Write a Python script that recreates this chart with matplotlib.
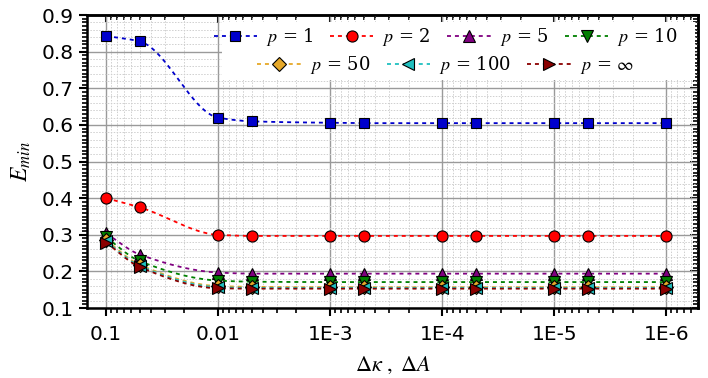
import numpy as np
import matplotlib
matplotlib.use("Agg")
import matplotlib.pyplot as plt
from matplotlib.patches import Rectangle
from matplotlib.ticker import FixedLocator, LogLocator, MultipleLocator, NullFormatter

plt.rcParams['mathtext.fontset'] = 'stix'

# step sizes (x) and minimum energy for each p
dk = [0.1, 0.05, 0.01, 0.005, 1e-3, 5e-4, 1e-4, 5e-5, 1e-5, 5e-6, 1e-6]
e_p1 = [0.843, 0.828, 0.620, 0.610, 0.606, 0.605, 0.605, 0.605, 0.605, 0.605, 0.605]
e_p2 = [0.400, 0.375, 0.300, 0.297, 0.297, 0.297, 0.297, 0.297, 0.297, 0.297, 0.297]
e_p5 = [0.304, 0.246, 0.197, 0.194, 0.194, 0.194, 0.194, 0.194, 0.194, 0.194, 0.194]
e_p10 = [0.293, 0.228, 0.175, 0.172, 0.171, 0.171, 0.171, 0.171, 0.171, 0.171, 0.171]
e_p50 = [0.285, 0.218, 0.160, 0.158, 0.157, 0.157, 0.157, 0.157, 0.157, 0.157, 0.157]
e_p100 = [0.282, 0.215, 0.157, 0.155, 0.155, 0.155, 0.155, 0.155, 0.155, 0.155, 0.155]
e_pinf = [0.279, 0.212, 0.154, 0.153, 0.153, 0.153, 0.153, 0.153, 0.153, 0.153, 0.153]

labels = ['$p$ = 1', '$p$ = 2', '$p$ = 5', '$p$ = 10', '$p$ = 50', '$p$ = 100', '$p$ = $\\infty$']
series = [e_p1, e_p2, e_p5, e_p10, e_p50, e_p100, e_pinf]
colors = ['#0000cc', '#ff0000', '#800080', '#007f00', '#e6a828', '#20c0c0', '#8b0000']
markers = ['s', 'o', '^', 'v', 'D', '<', '>']
msizes = [7, 8, 8.5, 8.5, 7, 8.5, 8.5]
xticks = [0.1, 0.01, 1e-3, 1e-4, 1e-5, 1e-6]
xticklabels = ['0.1', '0.01', '1E-3', '1E-4', '1E-5', '1E-6']


def pchip(x, y, xn):
    # monotone cubic, only used to draw the smooth connecting line
    x = np.asarray(x, float); y = np.asarray(y, float)
    h = np.diff(x); d = np.diff(y) / h
    m = np.zeros_like(y)
    for i in range(1, len(x) - 1):
        if d[i - 1] * d[i] > 0:
            w1 = 2 * h[i] + h[i - 1]; w2 = h[i] + 2 * h[i - 1]
            m[i] = (w1 + w2) / (w1 / d[i - 1] + w2 / d[i])
    m[0] = d[0]; m[-1] = d[-1]
    idx = np.clip(np.searchsorted(x, xn) - 1, 0, len(h) - 1)
    t = (xn - x[idx]) / h[idx]
    h00 = 2 * t**3 - 3 * t**2 + 1; h10 = t**3 - 2 * t**2 + t
    h01 = -2 * t**3 + 3 * t**2; h11 = t**3 - t**2
    return h00 * y[idx] + h10 * h[idx] * m[idx] + h01 * y[idx + 1] + h11 * h[idx] * m[idx + 1]


fig = plt.figure(figsize=(7.08, 3.78), dpi=100)
ax = fig.add_axes([0.123, 0.185, 0.863, 0.775])
ax.set_xscale('log')

dash = (0, (2.2, 2.2))
lx = -np.log10(dk)
fine = np.linspace(lx[0], lx[-1], 400)
handles = []
for ys, lab, c, mk, ms in zip(series, labels, colors, markers, msizes):
    ax.plot(10 ** (-fine), pchip(lx, ys, fine), color=c, lw=1.3, ls=dash, zorder=3)
    ax.plot(dk, ys, ls='none', marker=mk, ms=ms, mfc=c, mec='black', mew=0.8, zorder=4)
    h, = ax.plot([], [], color=c, lw=1.3, ls=dash, marker=mk, ms=ms, mfc=c,
                 mec='black', mew=0.8, label=lab)
    handles.append(h)

ax.set_xlim(0.148, 5.2e-7)
ax.set_ylim(0.1, 0.9)
ax.xaxis.set_major_locator(FixedLocator(xticks))
ax.set_xticklabels(xticklabels)
ax.xaxis.set_minor_locator(LogLocator(base=10, subs=np.arange(2, 10) * 1.0, numticks=20))
ax.xaxis.set_minor_formatter(NullFormatter())
ax.yaxis.set_minor_locator(MultipleLocator(0.01))
ax.set_yticks(np.arange(0.1, 0.91, 0.1))
ax.set_yticklabels([f'{v:.1f}' for v in np.arange(0.1, 0.91, 0.1)])

# grid: solid major, dotted minor
ax.grid(which='major', color='#9a9a9a', lw=1.0, ls='-', zorder=1)
ax.grid(which='minor', axis='x', color='#cfcfcf', lw=0.7, ls=(0, (1.5, 1.5)), zorder=1)
for yv in np.arange(0.12, 0.9, 0.02):
    if abs(yv * 10 - round(yv * 10)) > 1e-6:
        ax.axhline(yv, color='#cfcfcf', lw=0.7, ls=(0, (1.5, 1.5)), zorder=1)
ax.set_axisbelow(True)

ax.tick_params(which='both', labelsize=14.5, direction='out')
ax.tick_params(which='major', length=6, width=1.5)
ax.tick_params(which='minor', length=3.5, width=1.2)
ax.tick_params(axis='x', pad=6)
for sp in ax.spines.values():
    sp.set_linewidth(1.8)

# mirrored inward ticks on top and right
top = ax.secondary_xaxis('top')
top.xaxis.set_major_locator(FixedLocator(xticks))
top.xaxis.set_minor_locator(LogLocator(base=10, subs=np.arange(2, 10) * 1.0, numticks=20))
top.tick_params(which='both', direction='in', labeltop=False)
top.tick_params(which='major', length=6, width=1.5)
top.tick_params(which='minor', length=3.5, width=1.2)
right = ax.secondary_yaxis('right')
right.yaxis.set_major_locator(MultipleLocator(0.1))
right.yaxis.set_minor_locator(MultipleLocator(0.01))
right.tick_params(which='both', direction='in', labelright=False)
right.tick_params(which='major', length=6, width=1.5)
right.tick_params(which='minor', length=3.5, width=1.2)
for s in (top, right):
    for sp in s.spines.values():
        sp.set_linewidth(1.8)

ax.set_ylabel('$E_{min}$', fontsize=17, labelpad=6)
ax.set_xlabel('$\\Delta\\kappa\\ ,\\ \\Delta A$', fontsize=16, labelpad=8)

# legend: white box, 4 entries on first row, 3 centred on second
ax.add_patch(Rectangle((0.221, 0.778), 0.774, 0.198, transform=ax.transAxes,
                       facecolor='white', edgecolor='none', zorder=5))
lkw = dict(frameon=False, handlelength=2.4, handletextpad=0.5, columnspacing=0.9,
           borderpad=0.1, prop={'family': 'DejaVu Serif', 'size': 13})
leg1 = ax.legend(handles=handles[:4], ncol=4, loc='center', bbox_to_anchor=(0.587, 0.925), **lkw)
ax.add_artist(leg1)
leg2 = ax.legend(handles=handles[4:], ncol=3, loc='center', bbox_to_anchor=(0.587, 0.829), **lkw)
leg1.set_zorder(6)
leg2.set_zorder(6)

fig.savefig('out.png', dpi=100)
